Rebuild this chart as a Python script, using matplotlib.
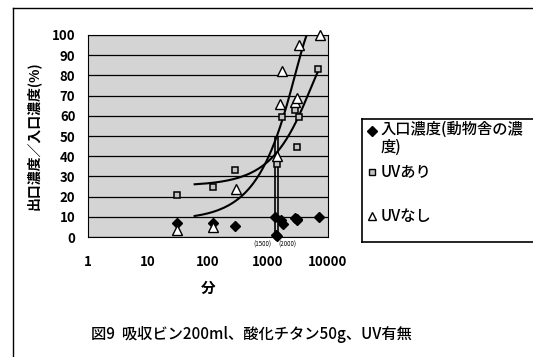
import matplotlib
matplotlib.use("Agg")
import matplotlib.pyplot as plt
import numpy as np
from matplotlib.lines import Line2D

plt.rcParams['font.family'] = ['Noto Sans CJK JP', 'DejaVu Sans']

# inlet concentration (diamonds)
inlet_t = [30, 120, 280, 1300, 1350, 1400, 1650, 1750, 2800, 3000, 3100, 7000]
inlet_v = [7, 7, 5.5, 10, 1, 0.5, 8.5, 6.5, 9.5, 9, 8.5, 10]

# with UV (squares)
uv_on_t = [30, 120, 280, 1400, 1700, 2800, 3100, 3300, 6800]
uv_on_v = [21, 25, 33, 36, 59.5, 63, 44.5, 59.5, 83]

# without UV (triangles)
uv_off_t = [30, 120, 290, 1400, 1600, 1700, 2800, 3100, 3300, 7300]
uv_off_v = [3.5, 5, 24, 40, 66, 82, 67, 69, 95, 100]

# marked run times
mark_t = [1300, 1450]
mark_top = 50
mark_labels = ['(1500)', '(2000)']
mark_label_t = [800, 2100]

yticks = list(range(0, 101, 10))
xticks = [1, 10, 100, 1000, 10000]

fig = plt.figure(figsize=(5.33, 3.57), dpi=100)
ax = fig.add_axes([0.165, 0.336, 0.4503, 0.566])
ax.set_facecolor('#d4d4d4')

ax.set_xscale('log')
ax.set_xlim(1, 10000)
ax.set_ylim(0, 100)
ax.set_yticks(yticks)
ax.set_xticks(xticks)
ax.set_xticklabels([str(t) for t in xticks])
ax.minorticks_off()
ax.tick_params(length=0, labelsize=9.5)
ax.tick_params(axis='x', pad=13)
ax.tick_params(axis='y', pad=9)
for lab in ax.get_xticklabels() + ax.get_yticklabels():
    lab.set_fontweight('bold')
ax.yaxis.grid(True, color='black', linewidth=0.9)
ax.set_axisbelow(True)
for s in ax.spines.values():
    s.set_linewidth(0.8)

# second-order trend lines
for t, v in [(uv_on_t, uv_on_v), (uv_off_t, uv_off_v)]:
    c = np.polyfit(t, v, 2)
    xs = np.linspace(60, max(t), 400)
    ys = np.polyval(c, xs)
    ax.plot(xs, ys, color='black', linewidth=1.5)

ax.vlines(mark_t, 0, mark_top, color='black', linewidth=1.2)

ax.plot(inlet_t, inlet_v, linestyle='none', marker='D', markersize=5,
        color='black', clip_on=False, zorder=5)
ax.plot(uv_on_t, uv_on_v, linestyle='none', marker='s', markersize=5,
        markerfacecolor='#c4c4c4', markeredgecolor='black', markeredgewidth=1.1,
        clip_on=False, zorder=5)
ax.plot(uv_off_t, uv_off_v, linestyle='none', marker='^', markersize=7,
        markerfacecolor='white', markeredgecolor='black', markeredgewidth=1,
        clip_on=False, zorder=5)

for t, lab in zip(mark_label_t, mark_labels):
    ax.text(t, -2, lab, fontsize=4.5, ha='center', va='top')

ax.set_xlabel('分', fontsize=10.5, labelpad=8, fontweight='bold')
ax.set_ylabel('出口濃度／入口濃度(%)', fontsize=10, labelpad=8, fontweight='bold')

# legend box
lg = fig.add_axes([0.679, 0.322, 0.36, 0.345])
lg.set_xlim(0, 1)
lg.set_ylim(0, 1)
lg.set_xticks([])
lg.set_yticks([])
lg.set_facecolor('white')
for s in lg.spines.values():
    s.set_linewidth(1.2)
entries = [('D', 'black', 'black', 5, 0.90, '入口濃度(動物舎の濃\n度)', 0.84),
           ('s', '#c4c4c4', 'black', 4.5, 0.57, 'UVあり', 0.57),
           ('^', 'white', 'black', 6, 0.21, 'UVなし', 0.21)]
for m, fc, ec, ms, my, label, ty in entries:
    lg.plot([0.055], [my], marker=m, markersize=ms, markerfacecolor=fc,
            markeredgecolor=ec, linestyle='none')
    lg.text(0.095, ty, label, fontsize=11, va='center', ha='left',
            linespacing=1.1, fontweight='medium')

# outer frame and caption
fig.add_artist(Line2D([0.024, 0.024], [0.0, 0.978], color='black', linewidth=1))
fig.add_artist(Line2D([0.024, 1.0], [0.978, 0.978], color='black', linewidth=1))
fig.text(0.471, 0.062, '図9  吸収ビン200ml、酸化チタン50g、UV有無', fontsize=11,
         ha='center', va='center', fontweight='medium')

fig.savefig('out.png', dpi=100)
